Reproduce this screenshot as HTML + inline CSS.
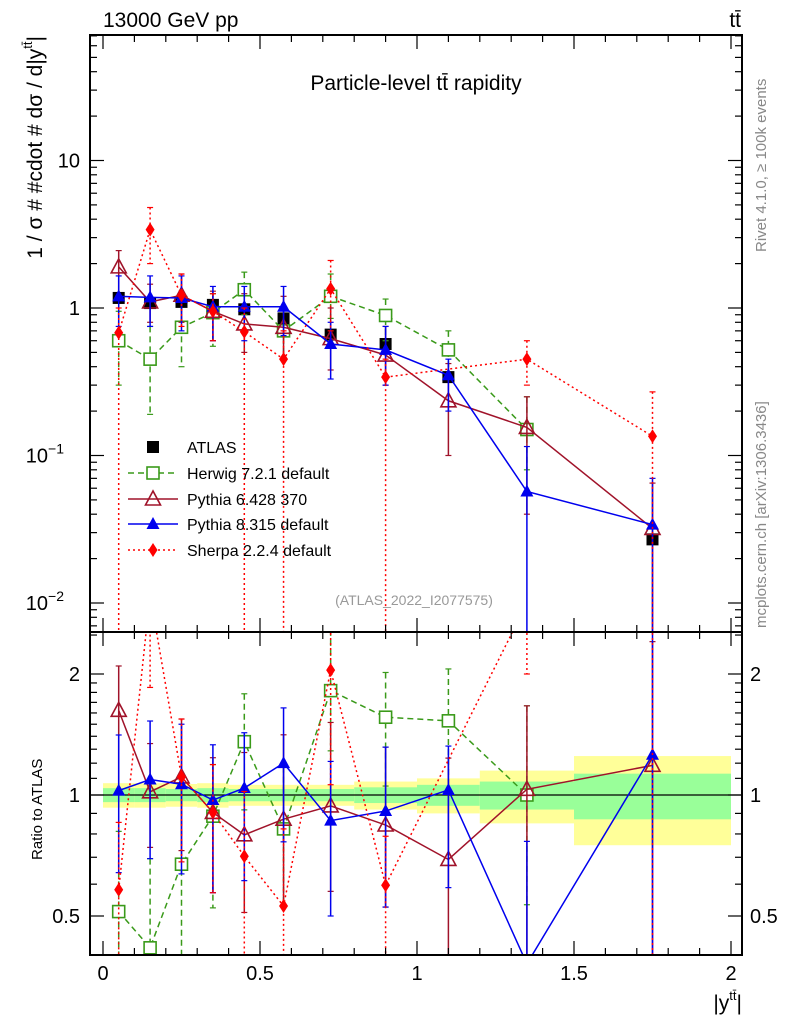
<!DOCTYPE html>
<html><head><meta charset="utf-8">
<style>
html,body{margin:0;padding:0;background:#fff;overflow:hidden;width:786px;height:1024px;}
svg{display:block;}
svg text{font-family:"Liberation Sans",sans-serif;}
</style></head>
<body>
<svg id="c" width="786" height="1024" viewBox="0 0 786 1024" xmlns="http://www.w3.org/2000/svg"></svg>
<script>
const categories=[0.05,0.15,0.25,0.35,0.45,0.575,0.725,0.9,1.1,1.35,1.75];
const binEdges=[0,0.1,0.2,0.3,0.4,0.5,0.65,0.8,1.0,1.2,1.5,2.0];
const atlas=[1.17,1.08,1.1,1.05,0.98,0.85,0.66,0.57,0.34,0.15,0.027];
const bandYellow=[0.07,0.07,0.065,0.07,0.06,0.06,0.06,0.08,0.1,0.15,0.25];
const bandGreen=[0.04,0.04,0.035,0.04,0.035,0.035,0.035,0.045,0.06,0.08,0.13];
const herwig=[0.6,0.45,0.74,0.93,1.33,0.7,1.2,0.89,0.52,0.15,null];
const herwigHi=[0.95,0.75,1.2,1.25,1.75,1.0,1.7,1.15,0.7,0.25,null];
const herwigLo=[0.3,0.19,0.4,0.55,0.9,0.45,0.85,0.6,0.35,0.08,null];
const py6=[1.9,1.1,1.22,0.95,0.78,0.74,0.62,0.48,0.235,0.155,0.032];
const py6Hi=[2.45,1.45,1.7,1.3,1.25,1.2,1.0,0.75,0.42,0.25,0.065];
const py6Lo=[1.2,0.8,0.8,0.6,0.5,0.45,0.38,0.3,0.1,0.04,0.001];
const py8=[1.2,1.18,1.17,1.02,1.02,1.02,0.57,0.52,0.35,0.057,0.034];
const py8Hi=[1.65,1.65,1.65,1.4,1.4,1.4,0.8,0.75,0.45,0.115,0.07];
const py8Lo=[0.75,0.75,0.7,0.6,0.6,0.65,0.33,0.3,0.2,0.001,0.001];
const sherpa=[0.68,3.4,1.22,0.95,0.69,0.45,1.35,0.34,null,0.45,0.135];
const sherpaHi=[1.0,4.8,1.7,1.25,1.0,0.7,2.1,0.45,null,0.6,0.27];
const sherpaLo=[0.001,2.0,0.75,0.6,0.001,0.001,0.7,0.001,null,0.3,0.001];
const xTicks=[0,0.5,1,1.5,2];
const xTickLabels=["0","0.5","1","1.5","2"];

const S=document.getElementById('c');const NS='http://www.w3.org/2000/svg';
function el(t,a,p){const e=document.createElementNS(NS,t);for(const k in a)e.setAttribute(k,a[k]);(p||S).appendChild(e);return e;}
const L=90,R=742,T=35,MB=632,RB=955;
const X=v=>103+v*314;
const Y=v=>308-Math.log10(v)*147.5;
const YR=v=>795-Math.log2(v)*121;
const clipM=el('clipPath',{id:'cm'});el('rect',{x:L,y:T,width:R-L,height:MB-T},clipM);
const clipR=el('clipPath',{id:'cr'});el('rect',{x:L,y:MB,width:R-L,height:RB-MB},clipR);

const gb=el('g',{'clip-path':'url(#cr)'});
for(let i=0;i<categories.length;i++){
 const r1=el('rect',{x:X(binEdges[i]),width:X(binEdges[i+1])-X(binEdges[i]),y:YR(1+bandYellow[i]),height:YR(1-bandYellow[i])-YR(1+bandYellow[i]),fill:'#ffff99'},gb);
 
 const r2=el('rect',{x:X(binEdges[i]),width:X(binEdges[i+1])-X(binEdges[i]),y:YR(1+bandGreen[i]),height:YR(1-bandGreen[i])-YR(1+bandGreen[i]),fill:'#99ff99'},gb);
 
}
const one=el('line',{x1:L,x2:R,y1:YR(1),y2:YR(1),stroke:'#000','stroke-width':1.2});


function marker(g,type,x,y,col){
 const s=6;
 if(type==='sqf')return el('rect',{x:x-s,y:y-s,width:2*s,height:2*s,fill:'#000'},g);
 if(type==='sq')return el('rect',{x:x-s,y:y-s,width:2*s,height:2*s,fill:'#fff',stroke:col,'stroke-width':1.6},g);
 if(type==='tri')return el('polygon',{points:`${x},${y-8} ${x-7.5},${y+6} ${x+7.5},${y+6}`,fill:'#fff','fill-opacity':0,stroke:col,'stroke-width':1.6},g);
 if(type==='trif')return el('polygon',{points:`${x},${y-7} ${x-6.5},${y+5} ${x+6.5},${y+5}`,fill:col},g);
 if(type==='dia')return el('polygon',{points:`${x},${y-7} ${x-4.5},${y} ${x},${y+7} ${x+4.5},${y}`,fill:col},g);
}
const series=[
 {name:'herwig',v:herwig,hi:herwigHi,lo:herwigLo,col:'#3a9a1a',dash:'6,4',m:'sq'},
 {name:'pythia6',v:py6,hi:py6Hi,lo:py6Lo,col:'#a0132a',dash:'',m:'tri'},
 {name:'pythia8',v:py8,hi:py8Hi,lo:py8Lo,col:'#0000ee',dash:'',m:'trif'},
 {name:'sherpa',v:sherpa,hi:sherpaHi,lo:sherpaLo,col:'#ff0000',dash:'2,3',m:'dia'}
];
function drawSeries(s,ratio){
 const g=el('g',{'clip-path':ratio?'url(#cr)':'url(#cm)'});
 
 const yf=ratio?(v,i)=>YR(Math.max(v/atlas[i],1e-3)):(v)=>Y(v);
 let pts=[];
 s.v.forEach((v,i)=>{if(v!=null)pts.push(X(categories[i])+','+yf(v,i));});
 const pl=el('polyline',{points:pts.join(' '),fill:'none',stroke:s.col,'stroke-width':1.5,'stroke-dasharray':s.dash},g);
 
 s.v.forEach((v,i)=>{if(v==null)return;const x=X(categories[i]);
  const y1=yf(s.hi[i],i),y2=yf(s.lo[i],i);
  const eb=el('line',{x1:x,x2:x,y1:y1,y2:y2,stroke:s.col,'stroke-width':1.5,'stroke-dasharray':s.dash},g);
  
  el('line',{x1:x-3,x2:x+3,y1:y1,y2:y1,stroke:s.col,'stroke-width':1.2},g);
  el('line',{x1:x-3,x2:x+3,y1:y2,y2:y2,stroke:s.col,'stroke-width':1.2},g);
 });
 s.v.forEach((v,i)=>{if(v==null)return;const mk=marker(g,s.m,X(categories[i]),yf(v,i),s.col);
  });
}
const ga=el('g',{'clip-path':'url(#cm)'});
atlas.forEach((v,i)=>{const mk=marker(ga,'sqf',X(categories[i]),Y(v),'#000');});
series.forEach(s=>{drawSeries(s,false);drawSeries(s,true);});

for(const [y0,y1] of [[T,MB],[MB,RB]]){const f=el('rect',{x:L,y:y0,width:R-L,height:y1-y0,fill:'none',stroke:'#000','stroke-width':2});}
for(let k=0;k<=20;k++){const v=k/10,x=X(v);if(x<L||x>R)continue;const maj=k%5===0;const len=maj?14:7;
 for(const [a,b] of [[T,1],[MB,1],[MB,-1],[RB,-1]])el('line',{x1:x,x2:x,y1:a,y2:a+b*len,stroke:'#000','stroke-width':1.2});}
xTicks.forEach((v,i)=>{const t=el('text',{x:X(v),y:980,'font-size':20,'text-anchor':'middle'});t.textContent=xTickLabels[i];});
for(let d=-3;d<=1;d++)for(let m=1;m<10;m++){const v=m*Math.pow(10,d);const y=Y(v);if(y<T||y>MB)continue;const len=m===1?14:7;
 el('line',{x1:L,x2:L+len,y1:y,y2:y,stroke:'#000','stroke-width':1.2});el('line',{x1:R,x2:R-len,y1:y,y2:y,stroke:'#000','stroke-width':1.2});}
function ytl(txt,y){const t=el('text',{x:80,y:y+7,'font-size':20,'text-anchor':'end'});t.textContent=txt;}
ytl('10',Y(10));ytl('1',Y(1));
{const t=el('text',{x:64,y:Y(0.1)+7,'font-size':20,'text-anchor':'end'});t.textContent='10';const s=el('tspan',{dy:-9,'font-size':14},t);s.textContent='−1';}
{const t=el('text',{x:64,y:Y(0.01)+7,'font-size':20,'text-anchor':'end'});t.textContent='10';const s=el('tspan',{dy:-9,'font-size':14},t);s.textContent='−2';}
const rt=[0.4,0.5,0.6,0.7,0.8,0.9,1,1.1,1.2,1.3,1.4,1.5,1.6,1.7,1.8,1.9,2,2.5];
rt.forEach(v=>{const y=YR(v);if(y<MB||y>RB)return;const maj=(v===0.5||v===1||v===2);const len=maj?14:7;
 el('line',{x1:L,x2:L+len,y1:y,y2:y,stroke:'#000','stroke-width':1.2});el('line',{x1:R,x2:R-len,y1:y,y2:y,stroke:'#000','stroke-width':1.2});});
[['2',2],['1',1],['0.5',0.5]].forEach(([s,v])=>{for(const [x,a] of [[80,'end'],[750,'start']]){const t=el('text',{x:x,y:YR(v)+7,'font-size':20,'text-anchor':a});t.textContent=s;}});
function txt(s,a,name){const t=el('text',a);t.textContent=s;return t;}
txt('13000 GeV pp',{x:103,y:27,'font-size':21},'energy-label');
txt('tt̄',{x:741,y:27,'font-size':21,'text-anchor':'end'},'process-label');
txt('Particle-level tt̄ rapidity',{x:416,y:90,'font-size':21,'text-anchor':'middle'},'plot-title');
txt('(ATLAS_2022_I2077575)',{x:414,y:605,'font-size':14,fill:'#999','text-anchor':'middle'},'analysis-id');
{const t=el('text',{x:742,y:1010,'font-size':21,'text-anchor':'end'});
 const a=el('tspan',{},t);a.textContent='|y';const b=el('tspan',{dy:-10,'font-size':13},t);b.textContent='tt̄';const c=el('tspan',{dy:10},t);c.textContent='|';}
{const t=el('text',{x:0,y:0,'font-size':21,'text-anchor':'end',transform:'translate(42,36) rotate(-90)'});
 const a=el('tspan',{},t);a.textContent='1 / σ # #cdot # dσ / d|y';const b=el('tspan',{dy:-10,'font-size':13},t);b.textContent='tt̄';const c=el('tspan',{dy:10},t);c.textContent='|';}
txt('Ratio to ATLAS',{x:0,y:0,'font-size':15,transform:'translate(42,860) rotate(-90)'},'ratio-axis-title');
txt('Rivet 4.1.0, ≥ 100k events',{x:0,y:0,'font-size':15,fill:'#888',transform:'translate(766,252) rotate(-90)'},'rivet-label');
txt('mcplots.cern.ch [arXiv:1306.3436]',{x:0,y:0,'font-size':15,fill:'#888',transform:'translate(766,628) rotate(-90)'},'mcplots-label');
const lg=el('g',{});
const legNames=['ATLAS','Herwig 7.2.1 default','Pythia 6.428 370','Pythia 8.315 default','Sherpa 2.2.4 default'];
const legY=[447,473,499,524,550];
const mk0=marker(lg,'sqf',153,legY[0],'#000');
series.forEach((s,i)=>{const y=legY[i+1];const ln=el('line',{x1:128,x2:178,y1:y,y2:y,stroke:s.col,'stroke-width':1.5,'stroke-dasharray':s.dash},lg);
 const m=marker(lg,s.m,153,y,s.col);});
legNames.forEach((n,i)=>{const t=el('text',{x:187,y:legY[i]+6,'font-size':16},lg);t.textContent=n;});
</script>
</body></html>
